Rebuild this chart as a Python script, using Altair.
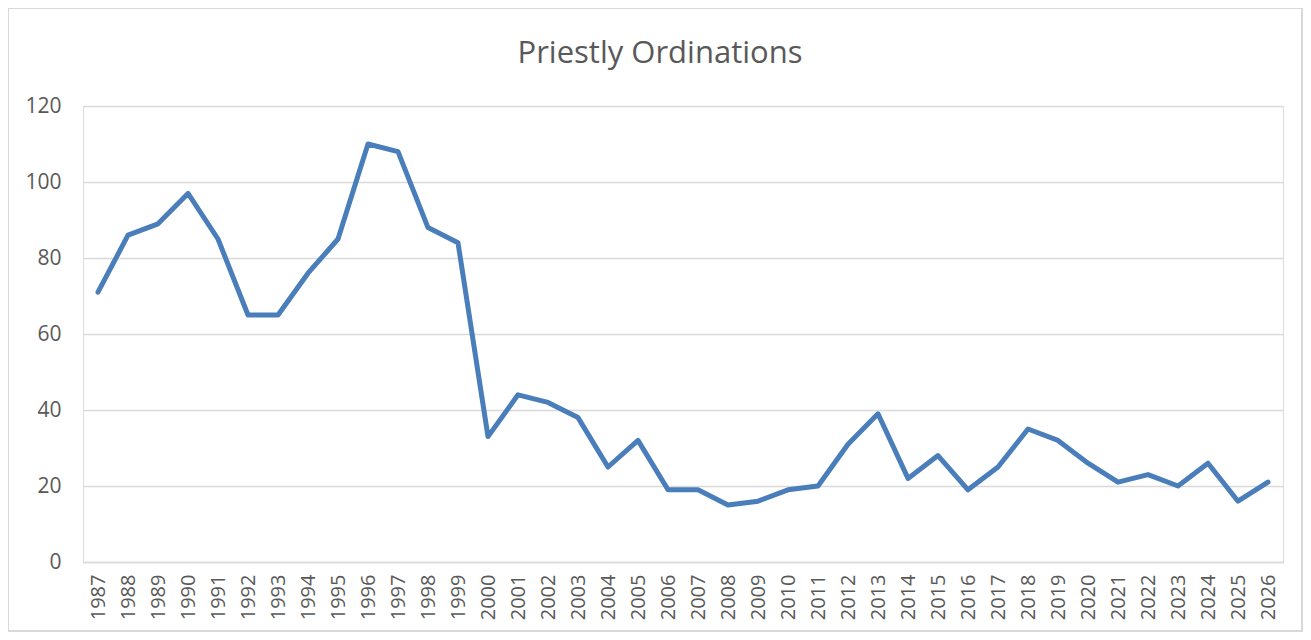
import altair as alt
import pandas as pd

years = [str(y) for y in range(1987, 2027)]
ordinations = [71, 86, 89, 97, 85, 65, 65, 76, 85, 110,
               108, 88, 84, 33, 44, 42, 38, 25, 32, 19,
               19, 15, 16, 19, 20, 31, 39, 22, 28, 19,
               25, 35, 32, 26, 21, 23, 20, 26, 16, 21]
title_text = ["Priestly Ordinations"]

df = pd.DataFrame({"year": years, "value": ordinations})
tdf = pd.DataFrame({"t": title_text})

FONT = "Open Sans"
GRAY = "#595959"
GRID = "#d9d9d9"

W, H = 1200, 456

line = alt.Chart(df).mark_line(
    color="#4a7ebb", strokeWidth=5, strokeJoin="round", strokeCap="round"
).encode(
    x=alt.X("year:O", sort=years, title=None,
            scale=alt.Scale(type="point", padding=0.5),
            axis=alt.Axis(labelAngle=-90, labelAlign="right", labelBaseline="middle",
                          labelPadding=12, ticks=False, domain=True, domainColor=GRID,
                          domainWidth=1.5, labelFont=FONT, labelFontSize=20,
                          labelColor=GRAY, grid=False)),
    y=alt.Y("value:Q", title=None,
            scale=alt.Scale(domain=[0, 120], nice=False),
            axis=alt.Axis(values=[0, 20, 40, 60, 80, 100, 120], ticks=False, domain=False,
                          grid=True, gridColor=GRID, gridWidth=1.5, labelPadding=22,
                          labelFont=FONT, labelFontSize=21, labelColor=GRAY)),
)

frame = alt.Chart(df).mark_rect(
    fill=None, stroke=GRID, strokeWidth=1.5
).encode(
    x=alt.value(-75), x2=alt.value(W + 19), y=alt.value(-98), y2=alt.value(H + 69)
)

title = alt.Chart(tdf).mark_text(
    font=FONT, fontSize=31, color=GRAY, align="center", baseline="alphabetic"
).encode(
    text="t:N", x=alt.value(577), y=alt.value(-43)
)

chart = alt.layer(frame, line, title).properties(
    width=W, height=H,
    autosize=alt.AutoSizeParams(type="none"),
    padding={"left": 75, "top": 98, "right": 20, "bottom": 70},
).configure_view(stroke=None).configure(background="white")

chart.save("out.html", embed_options={"renderer": "svg", "actions": False})
